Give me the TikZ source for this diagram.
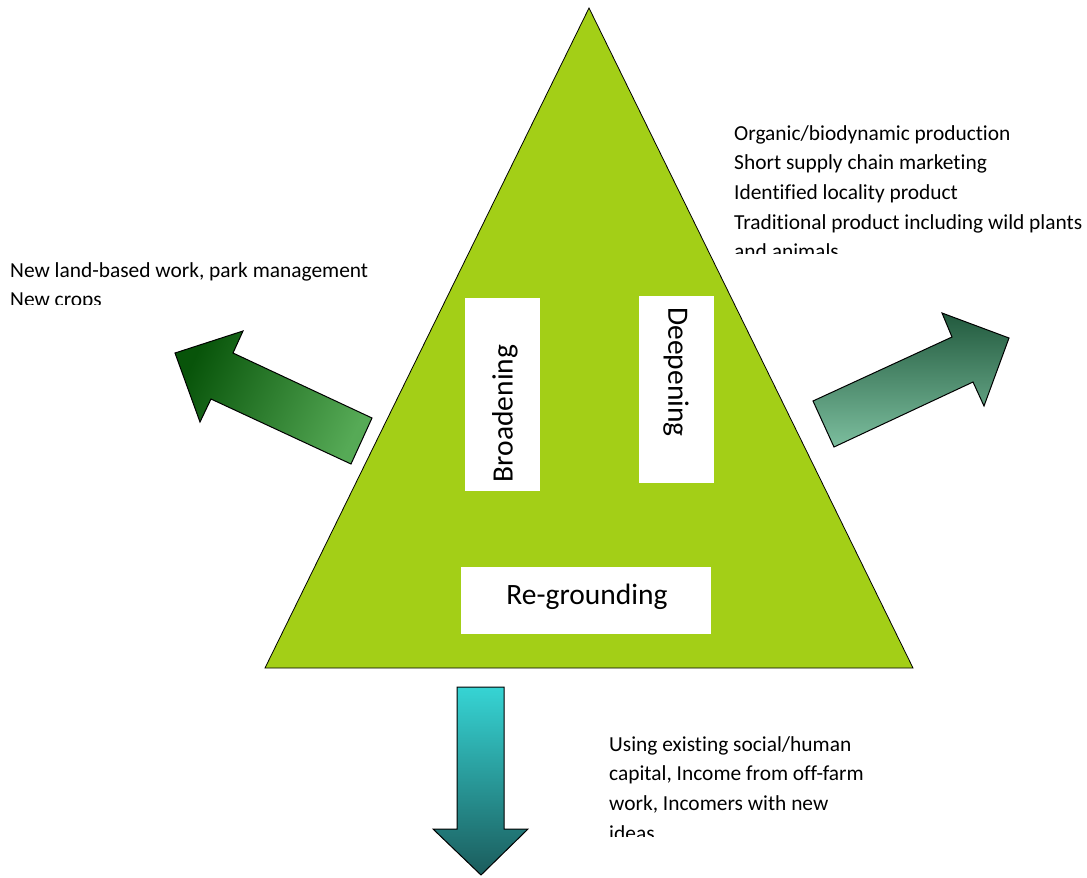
\documentclass[tikz,border=0pt]{standalone}
\usepackage{fontspec}
\setmainfont[Ligatures=NoCommon]{Carlito}
\begin{document}
\begin{tikzpicture}[x=1pt,y=-1pt,
  arrowshape/.style={draw=black, line width=1pt, line join=miter},
  whitebox/.style={fill=white, draw=none, inner sep=0pt},
  bigtext/.style={font=\fontsize{29.5}{30}\selectfont, inner sep=0pt},
  smalltext/.style={font=\fontsize{21.4}{29.7}\selectfont, align=left, anchor=north west, inner sep=0pt}]
\definecolor{tri}{RGB}{163,207,23}
\definecolor{ldark}{RGB}{8,84,10}
\definecolor{llight}{RGB}{86,170,86}
\definecolor{rdark}{RGB}{34,90,62}
\definecolor{rlight}{RGB}{124,190,158}
\definecolor{ddtop}{RGB}{54,212,212}
\definecolor{ddbot}{RGB}{27,92,92}
\useasboundingbox (0,0) rectangle (1087,878);
% triangle
\coordinate (apex) at (589,8);
\coordinate (bl) at (265,668);
\coordinate (br) at (913,668);
\draw[fill=tri, draw=black, line width=0.8pt] (apex) -- (bl) -- (br) -- cycle;
% boxes
\node[whitebox, minimum width=75, minimum height=193] (bbox) at (502.5,394.5) {};
\node[whitebox, minimum width=75, minimum height=187] (dbox) at (676.5,389.5) {};
\node[whitebox, minimum width=250, minimum height=67] (rbox) at (586,600.5) {};
\node[bigtext, rotate=90] (btext) at (505,413.5) {Broadening};
\node[bigtext, rotate=-90] (dtext) at (676,372) {Deepening};
\node[bigtext] (rtext) at (587,596.5) {Re-grounding};
% left arrow
\shade[arrowshape, top color=ldark, bottom color=llight, shading angle=65]
  (175,353) -- (243,331) -- (233,353) -- (372,418) -- (351,464) -- (211,399) -- (200,422) -- cycle;
% right arrow
\shade[arrowshape, top color=rdark, bottom color=rlight]
  (834,447) -- (813,401) -- (952,337) -- (942,313) -- (1009,338) -- (984,406) -- (973,382) -- cycle;
% down arrow
\shade[arrowshape, top color=ddtop, bottom color=ddbot]
  (457,687) -- (504,687) -- (504,829) -- (528,829) -- (481,875) -- (433,829) -- (457,829) -- cycle;
% text blocks
\begin{scope}
\clip (700,100) rectangle (1087,253);
\node[smalltext] (rtxt) at (734,125) {Organic/biodynamic production\\Short supply chain marketing\\Identified locality product\\Traditional product including wild plants\\and animals};
\end{scope}
\begin{scope}
\clip (0,240) rectangle (400,304);
\node[smalltext] (ltxt) at (10,262) {New land-based work, park management\\New crops};
\end{scope}
\begin{scope}
\clip (590,720) rectangle (900,836);
\node[smalltext] (btxt) at (609,736) {Using existing social/human\\capital, Income from off-farm\\work, Incomers with new\\ideas};
\end{scope}
\end{tikzpicture}
\end{document}
